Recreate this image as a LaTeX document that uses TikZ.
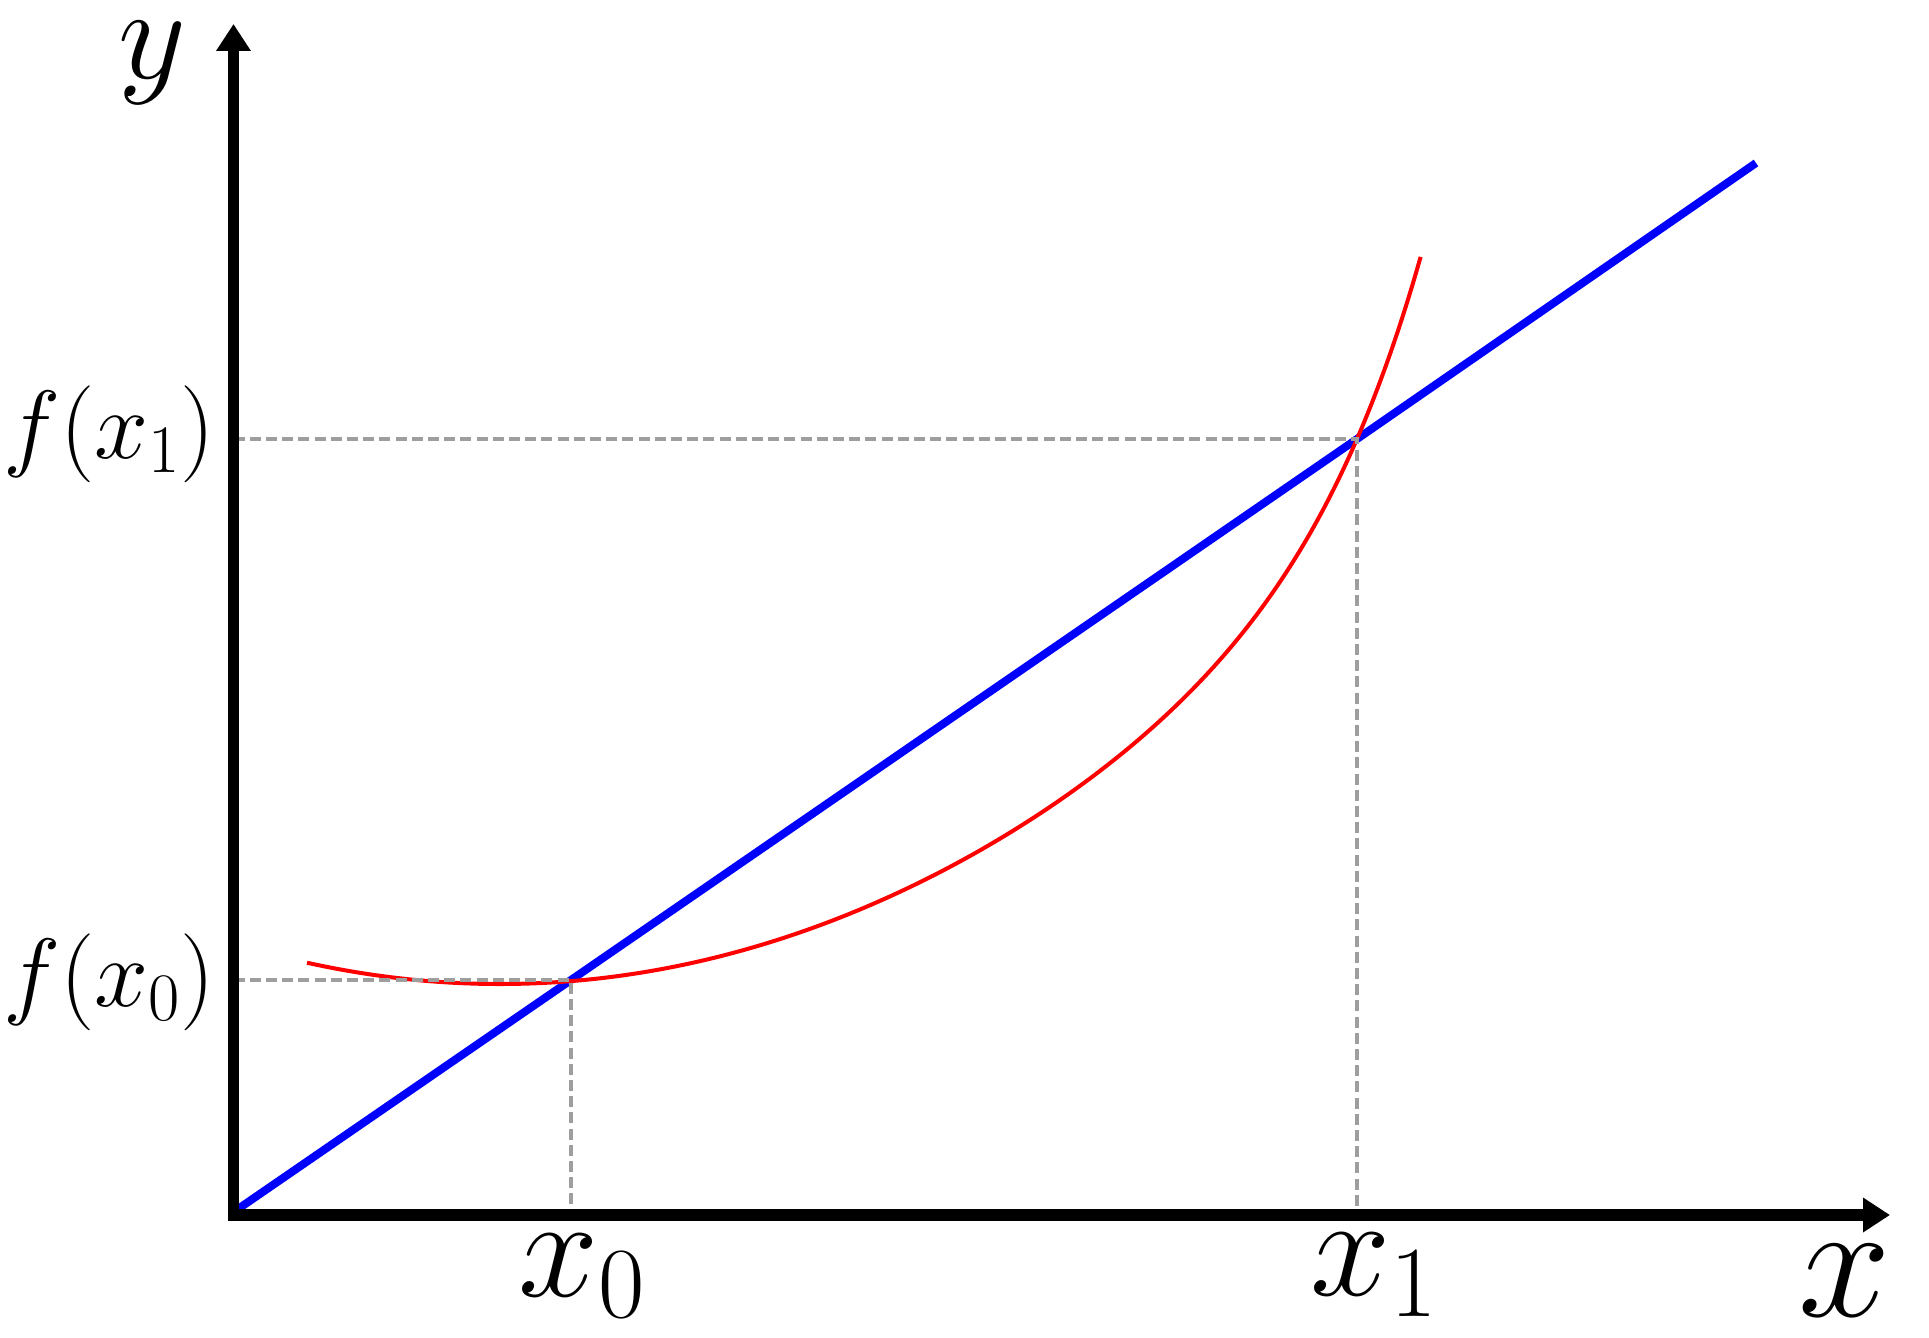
\documentclass[tikz,border=0pt]{standalone}
\usepackage{fix-cm}
\usetikzlibrary{arrows.meta}
\definecolor{guidegray}{RGB}{158,158,158}
\tikzset{
  axis/.style={line width=5.9pt, line join=miter, {Triangle[length=13.5pt,width=16.5pt]}-{Triangle[length=13.5pt,width=16.5pt]}},
  secant/.style={line width=4pt, color={rgb,255:red,0;green,0;blue,255}},
  curve/.style={line width=2pt, color={rgb,255:red,255;green,0;blue,0}},
  guide/.style={line width=1.6pt, color=guidegray, dash pattern=on 5.5pt off 2.6pt},
  lbl/.style={inner sep=0pt, outer sep=0pt}
}
\begin{document}
\begin{tikzpicture}[x=0.5pt,y=-0.5pt]
\useasboundingbox (0,0) rectangle (1929,1338);
% key points
\coordinate (O) at (233.5,1215);
\coordinate (ytip) at (233.5,24);
\coordinate (xtip) at (1890,1215);
\coordinate (P0) at (571,980);
\coordinate (P1) at (1357,439);
\coordinate (B0) at (238,1209);
\coordinate (B1) at (1756,163);
\coordinate (H0) at (233.5,980);
\coordinate (H1) at (233.5,439);
\coordinate (V0) at (571,1215);
\coordinate (V1) at (1357,1215);
% secant line
\draw[secant] (B0) -- (P0) -- (P1) -- (B1);
% curve
\draw[curve] plot[domain=-0.193:0.922, samples=160, smooth, variable=\t]
  ({500+1000*\t}, {984-(570*\t*\t+38.1*(\t*\t)^2+495.4*(\t*\t)^5)});
% guides
\draw[guide] (H1) -- (P1) -- (V1);
\draw[guide] (H0) -- (P0) -- (V0);
% axes
\draw[axis] (ytip) -- (O) -- (xtip);
% labels
\node[lbl, anchor=base, font=\fontsize{66}{70}\selectfont] (ylab) at (152,79) {$y$};
\node[lbl, anchor=base, font=\fontsize{83}{87}\selectfont] (xlab) at (1845,1316) {$x$};
\node[lbl, anchor=base, font=\fontsize{72}{76}\selectfont] (x0lab) at (582,1296) {$x_0$};
\node[lbl, anchor=base, font=\fontsize{72}{76}\selectfont] (x1lab) at (1374,1295) {$x_1$};
\node[lbl, anchor=center, font=\fontsize{48.5}{52}\selectfont] (f1lab) at (109,434) {$f(x_1)$};
\node[lbl, anchor=center, font=\fontsize{48.5}{52}\selectfont] (f0lab) at (109,982) {$f(x_0)$};
\end{tikzpicture}
\end{document}
